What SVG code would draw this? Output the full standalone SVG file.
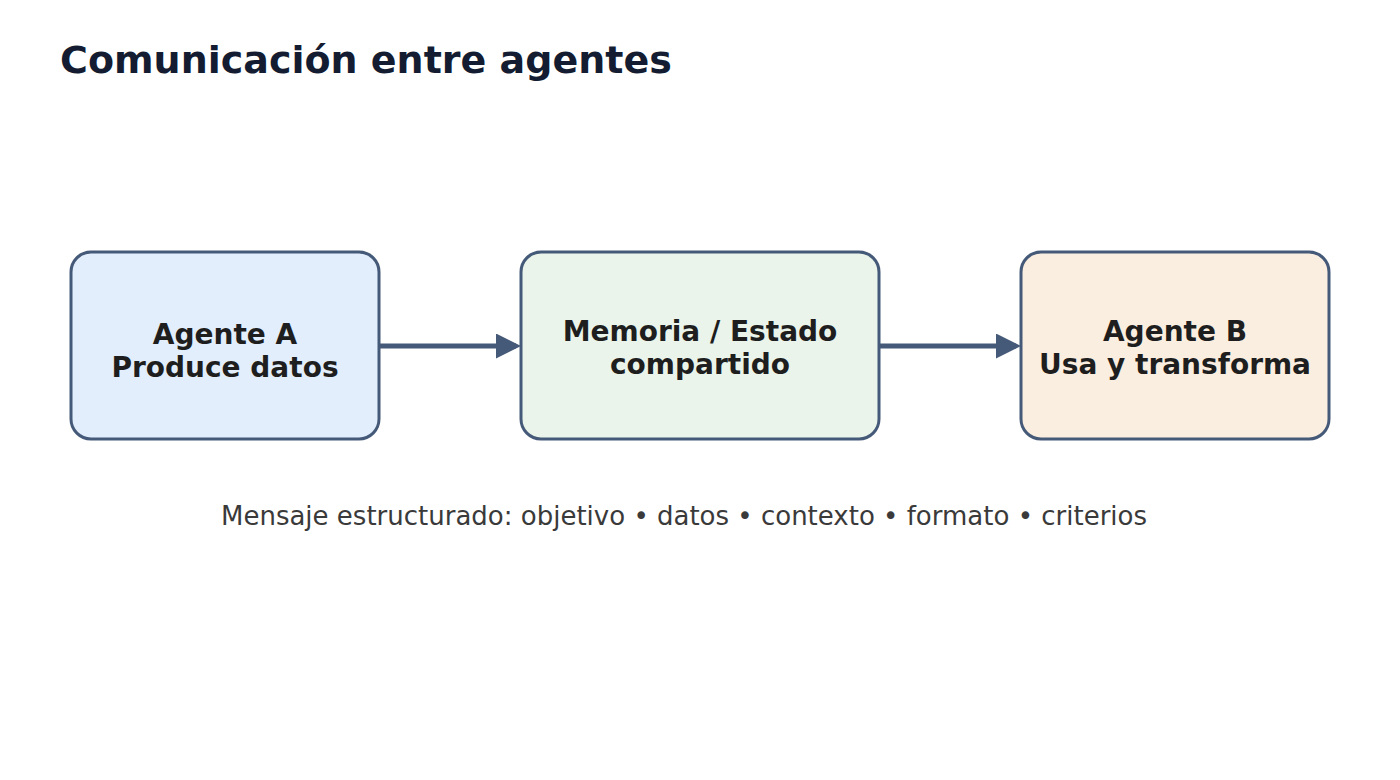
<svg xmlns="http://www.w3.org/2000/svg" width="1400" height="780" viewBox="0 0 1400 780">
<style>
.box{stroke:#455a78;stroke-width:3}
.t{font-family:"DejaVu Sans",sans-serif;font-weight:bold;font-size:28px;fill:#1e1e1e;text-anchor:middle}
.c{stroke:#455a78;stroke-width:5;fill:none}
</style>
<defs><marker id="a" markerWidth="5" markerHeight="5" refX="4" refY="2.5" orient="auto"><path d="M0,0L5,2.5L0,5z" fill="#455a78"/></marker></defs>
<rect width="1400" height="780" fill="#fff"/>
<text x="60" y="73" font-family="DejaVu Sans,sans-serif" font-weight="bold" font-size="38" fill="#131c30">Comunicación entre agentes</text>
<g id="connectors">
<line class="c" x1="380" y1="346" x2="516" y2="346" marker-end="url(#a)"/>
<line class="c" x1="879" y1="346" x2="1016" y2="346" marker-end="url(#a)"/>
</g>
<g id="a1"><rect class="box" x="71" y="252" width="308" height="187" rx="20" fill="#e2eefc"/><text class="t" x="225" y="344">Agente A</text><text class="t" x="225" y="377">Produce datos</text></g>
<g id="m"><rect class="box" x="521" y="252" width="358" height="187" rx="20" fill="#eaf4ea"/><text class="t" x="700" y="341">Memoria / Estado</text><text class="t" x="700" y="374">compartido</text></g>
<g id="b"><rect class="box" x="1021" y="252" width="308" height="187" rx="20" fill="#faeee0"/><text class="t" x="1175" y="341">Agente B</text><text class="t" x="1175" y="374">Usa y transforma</text></g>
<text x="684" y="525" text-anchor="middle" font-family="DejaVu Sans,sans-serif" font-size="26" fill="#3a3a3a">Mensaje estructurado: objetivo • datos • contexto • formato • criterios</text>
</svg>
